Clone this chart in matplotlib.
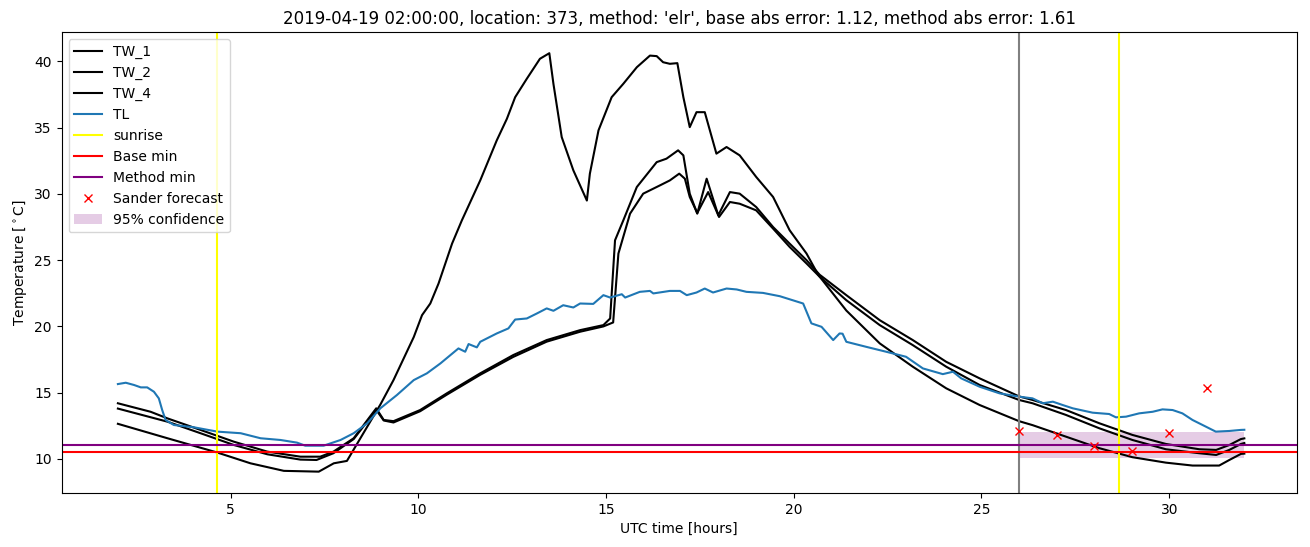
import matplotlib
matplotlib.use('Agg')
import matplotlib.pyplot as plt

# Wall temperature, sensor 1
tw1_x = [2.0, 2.87, 3.32, 4.2, 5.09, 5.98, 6.86, 7.39, 7.74, 8.28, 8.88, 9.08, 9.34, 10.05, 10.76,
         11.65, 12.53, 13.42, 14.31, 14.93, 15.11, 15.24, 15.46, 15.82, 16.35, 16.61, 16.92, 17.06,
         17.23, 17.43, 17.68, 17.99, 18.3, 18.56, 19.0, 19.45, 19.89, 20.34, 20.69, 21.4, 22.29,
         23.17, 24.06, 24.95, 26.0, 26.36, 27.25, 28.14, 29.02, 29.91, 30.8, 31.25, 31.6,
         31.91, 32.0]
tw1_y = [14.2, 13.56, 13.06, 12.19, 11.3, 10.55, 10.17, 10.17, 10.55, 11.56, 13.82, 12.94, 12.85,
         13.69, 14.95, 16.46, 17.84, 18.97, 19.72, 20.1, 20.6, 26.5, 28.0, 30.52, 32.4, 32.66, 33.29,
         32.91, 30.02, 28.51, 31.15, 28.39, 30.14, 30.02, 29.01, 27.5, 26.25, 25.0, 23.9, 22.36,
         20.47, 18.97, 17.33, 16.08, 14.72, 14.45, 13.69, 12.69, 11.81, 11.13, 10.73, 10.68,
         11.05, 11.5, 11.55]

# Wall temperature, sensor 2
tw2_x = [2.0, 3.32, 4.2, 5.09, 5.98, 6.86, 7.29, 7.74, 8.28, 8.88, 9.08, 9.34, 10.05, 10.76, 11.65,
         12.53, 13.42, 14.31, 14.93, 15.19, 15.33, 15.64, 15.99, 16.44, 16.7, 16.95, 17.1, 17.23,
         17.43, 17.72, 18.01, 18.3, 18.56, 19.0, 19.45, 19.89, 20.34, 20.69, 21.4, 22.29, 23.17,
         24.06, 24.95, 26.0, 26.36, 27.25, 28.14, 29.02, 29.91, 30.8, 31.25, 31.6, 31.91, 32.0]
tw2_y = [13.8, 12.81, 11.94, 11.05, 10.35, 9.95, 9.92, 10.43, 11.5, 13.7, 12.9, 12.75, 13.6, 14.85,
         16.35, 17.7, 18.85, 19.6, 20.0, 20.3, 25.5, 28.51, 30.02, 30.65, 31.02, 31.53, 31.15,
         29.77, 28.56, 30.14, 28.26, 29.39, 29.26, 28.76, 27.38, 26.0, 24.75, 23.75, 21.98, 20.1,
         18.59, 16.96, 15.58, 14.45, 14.2, 13.32, 12.31, 11.43, 10.73, 10.43, 10.3, 10.68,
         11.13, 11.2]

# Wall temperature, sensor 4
tw4_x = [2.0, 3.32, 4.65, 5.53, 6.42, 7.35, 7.75, 8.1, 8.99, 9.34, 9.88, 10.1, 10.32, 10.54, 10.9,
         11.16, 11.65, 12.09, 12.36, 12.58, 12.89, 13.24, 13.49, 13.6, 13.82, 14.13, 14.49, 14.57,
         14.8, 15.15, 15.46, 15.82, 16.17, 16.35, 16.52, 16.7, 16.9, 17.06, 17.23, 17.41, 17.63,
         17.94, 18.21, 18.56, 19.0, 19.45, 19.89, 20.34, 20.65, 21.4, 22.29, 23.17, 24.06, 24.95,
         26.0, 26.36, 27.25, 28.14, 29.02, 29.91, 30.62, 31.33, 31.6, 31.91, 32.0]
tw4_y = [12.65, 11.56, 10.48, 9.67, 9.1, 9.04, 9.67, 9.85, 14.1, 15.95, 19.2, 20.85, 21.73, 23.24,
         26.25, 28.0, 31.02, 34.04, 35.67, 37.3, 38.69, 40.2, 40.62, 38.3, 34.29, 31.78, 29.5,
         31.53, 34.8, 37.3, 38.31, 39.56, 40.44, 40.4, 39.94, 39.82, 39.87, 37.3, 35.04, 36.17,
         36.17, 33.04, 33.54, 32.91, 31.28, 29.77, 27.26, 25.5, 23.9, 21.2, 18.72, 16.96, 15.33,
         14.07, 12.85, 12.55, 11.68, 10.81, 10.13, 9.72, 9.5, 9.5, 9.92, 10.38, 10.4]

# Air temperature
tl_x = [2.0, 2.21, 2.43, 2.61, 2.78, 2.96, 3.09, 3.18, 3.27, 3.49, 4.02, 4.65, 5.27, 5.8, 6.33,
        6.77, 6.99, 7.48, 7.93, 8.28, 8.64, 8.99, 9.43, 9.88, 10.23, 10.59, 11.07, 11.25, 11.34,
        11.56, 11.65, 12.09, 12.4, 12.58, 12.89, 13.16, 13.42, 13.6, 13.86, 14.13, 14.31, 14.66,
        14.93, 15.11, 15.42, 15.51, 15.9, 16.17, 16.26, 16.7, 16.97, 17.15, 17.41, 17.63, 17.85,
        18.21, 18.48, 18.74, 19.18, 19.63, 20.25, 20.47, 20.74, 21.05, 21.22, 21.3, 21.4, 21.93,
        22.46, 22.99, 23.44, 23.97, 24.24, 24.46, 24.95, 25.48, 26.0, 26.36, 26.63, 26.9,
        27.16, 27.43, 27.96, 28.4, 28.58, 28.85, 29.2, 29.56, 29.82, 30.09, 30.35, 30.62, 30.98,
        31.24, 31.6, 31.91, 32.0]
tl_y = [15.65, 15.75, 15.58, 15.4, 15.4, 15.07, 14.57, 13.69, 12.94, 12.56, 12.39, 12.06, 11.94,
        11.56, 11.43, 11.23, 11.0, 11.0, 11.43, 11.94, 12.69, 13.82, 14.82, 15.95, 16.46, 17.21,
        18.34, 18.09, 18.67, 18.42, 18.84, 19.47, 19.85, 20.52, 20.6, 20.98, 21.36, 21.18, 21.6,
        21.43, 21.73, 21.7, 22.36, 22.18, 22.43, 22.18, 22.61, 22.68, 22.49, 22.68, 22.68, 22.36,
        22.56, 22.86, 22.56, 22.86, 22.79, 22.61, 22.53, 22.28, 21.73, 20.23, 19.97, 18.97,
        19.47, 19.45, 18.84, 18.46, 18.09, 17.71, 16.83, 16.4, 16.58, 16.08, 15.45, 14.95, 14.7,
        14.57, 14.2, 14.32, 14.07, 13.82, 13.49, 13.39, 13.14, 13.19, 13.44, 13.56, 13.74, 13.69,
        13.44, 12.94, 12.43, 12.06, 12.11, 12.19, 12.2]

sunrise = [4.65, 28.65]
forecast_time = 26.0
base_min = 10.56
method_min = 11.05

sander_x = [26, 27, 28, 29, 30, 31]
sander_y = [12.13, 11.81, 10.98, 10.6, 11.98, 15.33]

conf_x = [26, 32]
conf_low = [10.1, 10.1]
conf_high = [12.06, 12.06]

title = "2019-04-19 02:00:00, location: 373, method: 'elr', base abs error: 1.12, method abs error: 1.61"


def plot_forecast():
    fig, ax = plt.subplots(figsize=(13.1, 5.47), dpi=100)
    fig.subplots_adjust(left=0.047, right=0.99, top=0.941, bottom=0.099)

    ax.plot(tw1_x, tw1_y, 'k', label='TW_1')
    ax.plot(tw2_x, tw2_y, 'k', label='TW_2')
    ax.plot(tw4_x, tw4_y, 'k', label='TW_4')
    ax.plot(tl_x, tl_y, color='tab:blue', label='TL')

    for i, t in enumerate(sunrise):
        ax.axvline(t, color='yellow', label='sunrise' if i == 0 else None)
    ax.axvline(forecast_time, color='grey')

    ax.axhline(base_min, color='red', label='Base min')
    ax.axhline(method_min, color='purple', label='Method min')

    ax.plot(sander_x, sander_y, 'rx', linestyle='none', label='Sander forecast')
    ax.fill_between(conf_x, conf_low, conf_high, color='purple', alpha=0.2,
                    linewidth=0, label='95% confidence')

    ax.set_xlim(0.5, 33.4)
    ax.set_ylim(7.44, 42.2)
    ax.set_xlabel('UTC time [hours]')
    ax.set_ylabel(r'Temperature [$^\circ$C]')
    ax.set_title(title)
    ax.legend(loc='upper left')

    fig.savefig('out.png', dpi=100)
    return fig


if __name__ == '__main__':
    plot_forecast()
